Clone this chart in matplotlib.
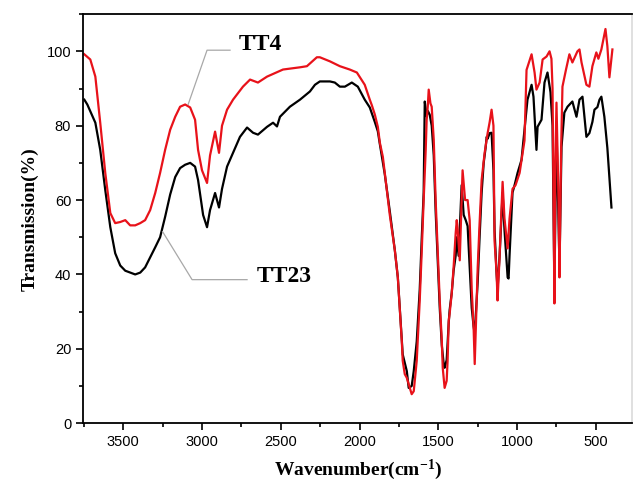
import numpy as np
import matplotlib.pyplot as plt
from matplotlib.ticker import MultipleLocator

plt.rcParams['mathtext.fontset'] = 'custom'
plt.rcParams['mathtext.rm'] = 'Liberation Serif:bold'
plt.rcParams['mathtext.default'] = 'rm'

# FTIR spectra (wavenumber cm-1, transmission %)
tt23_wn = [3747, 3728, 3677, 3646, 3614, 3582, 3551, 3519, 3487, 3456, 3424, 3392,
           3361, 3329, 3297, 3266, 3234, 3202, 3170, 3139, 3107, 3075, 3044, 3025,
           2993, 2968, 2949, 2917, 2892, 2873, 2841, 2803, 2759, 2714, 2676, 2645,
           2587, 2549, 2524, 2505, 2442, 2378, 2315, 2283, 2252, 2188, 2157, 2125,
           2093, 2049, 2011, 1967, 1935, 1903, 1884, 1871, 1840, 1808, 1776, 1757,
           1745, 1732, 1726, 1700, 1688, 1669, 1656, 1637, 1618, 1605, 1593, 1586,
           1574, 1567, 1555, 1542, 1529, 1517, 1504, 1491, 1478, 1466, 1460, 1447,
           1434, 1428, 1415, 1403, 1390, 1383, 1371, 1352, 1339, 1326, 1314, 1301,
           1288, 1276, 1269, 1250, 1238, 1225, 1212, 1200, 1193, 1187, 1174, 1162,
           1150, 1143, 1130, 1124, 1111, 1092, 1080, 1060, 1054, 1048, 1029, 1016,
           997, 972, 953, 934, 908, 896, 877, 870, 845, 826, 807, 788,
           775, 763, 750, 731, 718, 700, 680, 649, 623, 604, 585, 560,
           541, 522, 509, 490, 477, 465, 446, 427, 414, 401]
tt23_t = [87.0, 85.7, 80.8, 73.5, 62.7, 52.7, 45.7, 42.4, 41.0, 40.5, 40.0, 40.5,
          41.9, 44.6, 47.3, 50.0, 55.5, 61.5, 66.2, 68.6, 69.5, 70.0, 69.0, 65.4,
          56.0, 52.7, 57.3, 61.9, 58.0, 63.0, 69.0, 72.7, 77.0, 79.5, 78.1, 77.6,
          79.7, 80.8, 79.8, 82.4, 85.1, 87.0, 89.2, 91.0, 91.9, 91.9, 91.6, 90.5,
          90.5, 91.6, 90.5, 87.0, 84.9, 81.0, 78.5, 75.0, 67.0, 57.0, 46.5, 39.2,
          31.1, 22.2, 18.5, 14.0, 9.5, 10.0, 14.0, 22.0, 36.0, 50.0, 62.0, 86.5,
          82.5, 84.0, 83.0, 80.0, 72.0, 57.0, 44.0, 31.0, 21.0, 16.0, 14.9, 17.0,
          27.0, 30.5, 35.0, 41.0, 45.0, 50.0, 45.0, 64.0, 56.0, 54.6, 53.0, 42.0,
          31.0, 26.0, 24.0, 38.0, 50.0, 62.0, 70.0, 74.0, 77.0, 76.5, 78.0, 78.1,
          68.0, 52.0, 40.0, 36.0, 45.0, 62.0, 52.0, 39.2, 38.9, 45.0, 62.0, 64.0,
          67.3, 70.8, 78.9, 87.0, 91.0, 87.8, 73.5, 79.7, 81.6, 91.6, 94.3, 89.0,
          80.0, 36.0, 80.0, 42.0, 74.3, 83.5, 85.1, 86.5, 82.4, 87.0, 87.8, 77.0,
          78.0, 81.0, 84.3, 85.0, 87.0, 87.8, 82.4, 74.0, 66.0, 58.0]

tt4_wn = [3747, 3709, 3677, 3646, 3614, 3582, 3551, 3519, 3487, 3456, 3424, 3392,
          3361, 3329, 3297, 3266, 3234, 3202, 3170, 3139, 3107, 3075, 3044, 3025,
          3000, 2968, 2949, 2917, 2892, 2873, 2841, 2803, 2740, 2695, 2645, 2587,
          2486, 2378, 2334, 2271, 2252, 2188, 2125, 2062, 2017, 1967, 1935, 1922,
          1903, 1884, 1871, 1852, 1840, 1808, 1776, 1757, 1745, 1732, 1726, 1713,
          1700, 1681, 1669, 1656, 1637, 1618, 1605, 1593, 1580, 1574, 1567, 1561,
          1550, 1542, 1529, 1517, 1504, 1491, 1478, 1472, 1460, 1447, 1441, 1434,
          1428, 1415, 1403, 1390, 1383, 1377, 1364, 1346, 1330, 1314, 1301,
          1288, 1276, 1269, 1250, 1238, 1225, 1206, 1187, 1174, 1162,
          1150, 1143, 1130, 1124, 1111, 1092, 1080, 1060, 1048, 1029, 1010, 984,
          953, 940, 908, 889, 877, 857, 838, 813, 794, 782, 775, 763, 757,
          750, 737, 731, 720, 712, 690, 668, 649, 617, 604, 591, 560, 541, 522, 497,
          484, 465, 439, 427, 414, 395]
tt4_t = [99.2, 97.8, 93.2, 80.8, 67.3, 56.5, 53.8, 54.1, 54.6, 53.2, 53.2, 53.8,
         54.6, 57.3, 61.9, 67.3, 73.5, 78.9, 82.4, 85.1, 85.7, 84.9, 81.6, 73.5,
         68.0, 64.6, 72.0, 78.4, 72.7, 80.0, 84.3, 87.0, 90.5, 92.4, 91.6, 93.2,
         95.1, 95.7, 96.0, 98.4, 98.4, 97.3, 96.0, 95.1, 94.3, 91.0, 87.0, 85.5,
         83.0, 79.7, 75.4, 71.6, 67.3, 56.0, 46.5, 39.2, 31.1, 22.2, 16.8, 13.2,
         12.2, 9.5, 7.8, 8.6, 16.8, 33.0, 46.5, 60.0, 73.5, 81.6, 85.1, 89.7,
         86.0, 85.1, 76.2, 60.0, 46.5, 33.0, 22.2, 14.9, 9.5, 11.4, 16.8, 27.6,
         29.5, 34.9, 41.9, 51.0, 54.6, 51.9, 43.8, 68.0, 60.0, 60.0, 54.6,
         36.0, 25.7, 15.9, 41.9, 53.8, 65.4, 72.7, 78.0, 81.0, 84.3,
         80.0, 49.0, 40.3, 33.0, 45.0, 64.9, 55.0, 47.0, 55.0, 63.0, 64.0, 67.3,
         76.0, 95.0, 99.2, 94.3, 89.7, 91.6, 97.8, 98.6, 100.0, 98.0, 90.0, 32.2, 70.0,
         86.2, 60.0, 39.2, 75.0, 90.5, 95.0, 99.2, 97.0, 100.0, 100.5, 97.0, 91.0,
         90.5, 96.0, 99.7,
         98.0, 100.5, 106.0, 101.4, 93.0, 100.5]

fig = plt.figure(figsize=(6.34, 4.87), dpi=100)
ax = fig.add_axes([0.131, 0.131, 0.866, 0.840])

ax.plot(tt23_wn, tt23_t, color='black', lw=1.6)
ax.plot(tt4_wn, tt4_t, color='#e8121a', lw=1.6)

# leader lines + labels
ax.plot([3088, 2968, 2822], [85.7, 100.3, 100.3], color='#a8a8a8', lw=0.9)
ax.text(2765, 101.8, 'TT4', fontsize=17, fontweight='bold',
        family='Liberation Serif', va='center', ha='left')
ax.plot([3250, 3063, 2714], [51.5, 38.6, 38.6], color='#a8a8a8', lw=0.9)
ax.text(2650, 39.5, 'TT23', fontsize=17, fontweight='bold',
        family='Liberation Serif', va='center', ha='left')

ax.set_xlim(3755, 270)
ax.set_ylim(0, 110)
ax.xaxis.set_major_locator(MultipleLocator(500))
ax.xaxis.set_minor_locator(MultipleLocator(250))
ax.yaxis.set_major_locator(MultipleLocator(20))
ax.yaxis.set_minor_locator(MultipleLocator(10))
ax.tick_params(which='both', direction='out', top=False, right=False, width=1.2,
               labelsize=10.5)
ax.tick_params(which='major', length=5)
ax.tick_params(which='minor', length=3)
for lab in ax.get_xticklabels() + ax.get_yticklabels():
    lab.set_family('Liberation Sans')
for s in ax.spines.values():
    s.set_linewidth(1.3)
ax.spines['right'].set_color('#dddddd')

ax.set_xlabel('Wavenumber(cm$^{-1}$)', fontsize=14, fontweight='bold',
              family='Liberation Serif', labelpad=6)
ax.set_ylabel('Transmission(%)', fontsize=14, fontweight='bold',
              family='Liberation Serif', labelpad=6)

fig.savefig('out.png', dpi=100)
